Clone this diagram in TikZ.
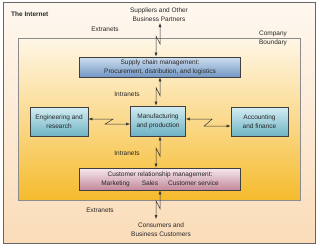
\documentclass[tikz,border=0pt]{standalone}
\usepackage{fontspec}
\setmainfont{Liberation Sans}
\usetikzlibrary{arrows.meta,calc}
\definecolor{PeachTop}{HTML}{FFF8F0}
\definecolor{PeachBot}{HTML}{FADCB8}
\definecolor{CoTop}{HTML}{FEF6E6}
\definecolor{CoMid}{HTML}{FBDA8E}
\definecolor{CoBot}{HTML}{F5BB2C}
\definecolor{BlueTop}{HTML}{CFDFEF}
\definecolor{BlueBot}{HTML}{7297C4}
\definecolor{TealTop}{HTML}{D3ECF2}
\definecolor{TealBot}{HTML}{6DB2C4}
\definecolor{RoseTop}{HTML}{F7E9EE}
\definecolor{RoseBot}{HTML}{C2889A}

\begin{document}
\begin{tikzpicture}[x=1pt,y=-1pt,
  >={Latex[length=4pt,width=3pt]},
  lbl/.style={font=\fontsize{6.5}{9}\selectfont,text=black!85,align=center,inner sep=0pt},
  unit/.style={lbl,draw=black!75,line width=0.7pt},
  scmbox/.style={unit,top color=BlueTop,bottom color=BlueBot,minimum width=161pt,minimum height=20pt},
  dptbox/.style={unit,top color=TealTop,bottom color=TealBot,minimum height=29pt},
  crmbox/.style={unit,top color=RoseTop,bottom color=RoseBot,minimum width=161pt,minimum height=22pt},
  link/.style={<->,line width=0.5pt,draw=black!80},
  zigv/.style={to path={let \p1=(\tikztostart), \p2=(\tikztotarget) in
    -- (\x1,{(\y1+\y2)/2-4pt}) -- (\x2,{(\y1+\y2)/2+4pt}) -- (\tikztotarget)}},
  zigh/.style={to path={let \p1=(\tikztostart), \p2=(\tikztotarget) in
    -- ({(\x1+\x2)/2+4pt},\y1) -- ({(\x1+\x2)/2-4pt},\y2) -- (\tikztotarget)}}]
\useasboundingbox (0,0) rectangle (320,249);

\draw[black!60,line width=0.6pt,top color=PeachTop,bottom color=PeachBot] (3,2) rectangle (315,243);
\draw[black!45,line width=0.5pt,top color=CoTop,bottom color=CoBot,middle color=CoMid] (18,38) rectangle (300,200);

\node[lbl,anchor=west,font=\fontsize{6.5}{9}\selectfont\bfseries] (inet) at (11,14) {The Internet};
\node[lbl] (suppliers) at (159,14.5) {Suppliers and Other\\Business Partners};
\node[lbl] (ext1) at (105,29) {Extranets};
\node[lbl] (bnd) at (273,38.5) {Company\\Boundary};
\node[lbl] (int1) at (127,94) {Intranets};
\node[lbl] (int2) at (127,153) {Intranets};
\node[lbl] (ext2) at (100,210) {Extranets};
\node[lbl] (consumers) at (161,230) {Consumers and\\Business Customers};

\node[scmbox] (scm) at (160,67) {Supply chain management:\\Procurement, distribution, and logistics};
\node[dptbox,minimum width=58pt] (eng) at (59,122) {Engineering and\\research};
\node[dptbox,minimum width=55pt,minimum height=30pt] (mfg) at (158,121) {Manufacturing\\and production};
\node[dptbox,minimum width=57pt] (acc) at (259.5,122) {Accounting\\and finance};
\node[crmbox] (crm) at (160,179) {Customer relationship management:\\Marketing\hspace{12pt}Sales\hspace{10pt}Customer service};

\coordinate (sup) at (160,23);
\coordinate (cons) at (156,219);

\draw[link] (sup) to[zigv] ([xshift=-4pt]scm.north);
\draw[link] (scm.south) to[zigv] ([xshift=-2pt]mfg.north);
\draw[link] ([xshift=2pt]mfg.south) to[zigv] ([xshift=-4pt]crm.north);
\draw[link] (crm.south) to[zigv] (cons);
\draw[link] ([yshift=3pt]eng.east) to[zigh] ([yshift=-3pt]mfg.west);
\draw[link] ([yshift=2pt]mfg.east) to[zigh] ([yshift=-4pt]acc.west);

\end{tikzpicture}
\end{document}
